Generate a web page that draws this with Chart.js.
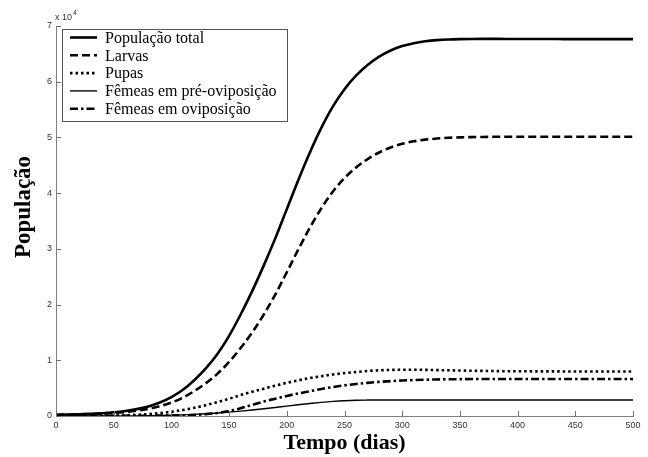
<!DOCTYPE html>
<html><head><meta charset="utf-8">
<script src="https://cdn.jsdelivr.net/npm/chart.js@4.4.1/dist/chart.umd.min.js"></script>
<style>html,body{margin:0;padding:0;background:#fff}#wrap{width:648px;height:457px;position:relative}</style>
</head><body><div id="wrap"><canvas id="c" width="648" height="457"></canvas></div>
<script>
const days = [0,10,20,30,40,50,60,70,80,90,100,110,120,130,140,150,160,170,180,190,200,210,220,230,240,250,260,270,280,290,300,310,320,330,340,350,360,370,380,390,400,410,420,430,440,450,460,470,480,490,500];
const total = [230,270,320,400,500,660,890,1230,1720,2420,3390,4700,6470,8580,11180,14390,18220,22420,26990,31880,37130,42370,47300,51750,55570,58650,61080,62990,64490,65600,66390,66920,67260,67470,67590,67650,67680,67690,67690,67680,67680,67670,67660,67660,67650,67650,67650,67650,67650,67650,67650];
const larvas = [180,230,280,350,440,560,720,950,1280,1750,2400,3300,4500,5900,7600,9700,12200,15000,18200,21800,25800,29900,33800,37300,40300,42700,44600,46100,47300,48200,48850,49300,49600,49800,49930,50010,50060,50090,50110,50120,50130,50130,50130,50130,50130,50130,50130,50130,50130,50130,50130];
const pupas = [0,0,10,20,30,60,120,210,340,520,760,1080,1480,1950,2500,3100,3750,4350,4900,5450,5950,6400,6800,7150,7450,7700,7900,8080,8200,8270,8300,8300,8280,8240,8200,8160,8120,8090,8060,8040,8030,8020,8010,8010,8000,8000,8000,8000,8000,8000,8000];
const preOvi = [0,0,0,0,0,10,20,30,50,80,130,200,290,400,530,690,870,1070,1290,1530,1780,2020,2250,2450,2620,2750,2830,2860,2870,2870,2870,2870,2870,2870,2870,2870,2870,2870,2870,2870,2870,2870,2870,2870,2870,2870,2870,2870,2870,2870,2870];
const ovi = [50,40,30,30,30,30,30,40,50,70,100,120,200,330,550,900,1400,2000,2600,3100,3600,4050,4450,4850,5200,5500,5750,5950,6120,6260,6370,6450,6510,6560,6590,6610,6630,6640,6650,6650,6650,6650,6650,6650,6650,6650,6650,6650,6650,6650,6650];
const xTicks = [0,50,100,150,200,250,300,350,400,450,500];
const yTicks = [0,10000,20000,30000,40000,50000,60000,70000];
const seriesNames = ['População total','Larvas','Pupas','Fêmeas em pré-oviposição','Fêmeas em oviposição'];
const xTitle = 'Tempo (dias)';
const yTitle = 'População';

const styles = [
  {w:2.6, dash:[]},
  {w:2.6, dash:[8,4]},
  {w:2.6, dash:[2.5,3]},
  {w:1.4, dash:[]},
  {w:2.6, dash:[8,3,2.5,3]}
];
const seriesData = [total, larvas, pupas, preOvi, ovi];

const datasets = seriesData.map((arr,i)=>({
  label: seriesNames[i],
  data: arr.map((v,j)=>({x:days[j], y:v})),
  borderColor:'#000',
  borderWidth: styles[i].w,
  borderDash: styles[i].dash,
  pointRadius:0,
  fill:false,
  cubicInterpolationMode:'monotone'
}));

const overlay = {
  id:'overlay',
  afterDraw(chart){
    const ctx = chart.ctx;
    const xs = chart.scales.x, ys = chart.scales.y;
    const ca = chart.chartArea;
    ctx.save();
    ctx.strokeStyle = '#707070';
    ctx.lineWidth = 1;
    ctx.setLineDash([]);
    ctx.beginPath();
    xTicks.forEach(t=>{
      const px = Math.round(xs.getPixelForValue(t))+0.5;
      ctx.moveTo(px, ca.bottom); ctx.lineTo(px, ca.bottom-5);
    });
    yTicks.forEach(t=>{
      const py = Math.round(ys.getPixelForValue(t))+0.5;
      ctx.moveTo(ca.left, py); ctx.lineTo(ca.left+5, py);
    });
    ctx.stroke();
    ctx.fillStyle = '#333';
    ctx.font = '9px "Liberation Sans", Arial, sans-serif';
    ctx.textAlign = 'left'; ctx.textBaseline = 'alphabetic';
    ctx.fillText('x 10', ca.left-1, ca.top-6);
    ctx.font = '7px "Liberation Sans", Arial, sans-serif';
    ctx.fillText('4', ca.left+17, ca.top-11);
    ctx.fillStyle = '#000';
    ctx.font = 'bold 22px "Liberation Serif", "Times New Roman", serif';
    ctx.textAlign = 'center'; ctx.textBaseline = 'middle';
    ctx.fillText(xTitle, (ca.left+ca.right)/2, 443);
    ctx.save();
    ctx.font = 'bold 23px "Liberation Serif", "Times New Roman", serif';
    ctx.translate(24, 207);
    ctx.rotate(-Math.PI/2);
    ctx.fillText(yTitle, 0, 0);
    ctx.restore();
    const bx = 62.5, by = 29.5, bw = 225, bh = 92;
    ctx.fillStyle = '#fff';
    ctx.fillRect(bx, by, bw, bh);
    ctx.strokeStyle = '#555';
    ctx.lineWidth = 1;
    ctx.strokeRect(bx, by, bw, bh);
    ctx.font = '16px "Liberation Serif", "Times New Roman", serif';
    ctx.textAlign = 'left'; ctx.textBaseline = 'middle';
    seriesNames.forEach((n,i)=>{
      const y = 37.5 + i*17.8;
      ctx.strokeStyle = '#000';
      ctx.lineWidth = styles[i].w;
      ctx.setLineDash(styles[i].dash);
      ctx.beginPath(); ctx.moveTo(70, y); ctx.lineTo(97, y); ctx.stroke();
      ctx.setLineDash([]);
      ctx.fillStyle = '#000';
      ctx.fillText(n, 105, y+1);
    });
    ctx.restore();
  }
};

new Chart(document.getElementById('c'), {
  type:'line',
  data:{datasets},
  options:{
    responsive:false,
    animation:false,
    layout:{padding:{left:0, right:15, top:26, bottom:0}},
    plugins:{legend:{display:false}, title:{display:false}, tooltip:{enabled:false}},
    scales:{
      x:{
        type:'linear', min:0, max:500,
        afterFit(s){ s.height = 41; },
        afterBuildTicks(s){ s.ticks = xTicks.map(v=>({value:v})); },
        grid:{display:false, drawTicks:false},
        border:{display:true, color:'#808080', width:1},
        ticks:{padding:4, color:'#333', font:{family:'"Liberation Sans", Arial, sans-serif', size:9}, maxRotation:0, autoSkip:false, callback:(v)=>String(v)}
      },
      y:{
        type:'linear', min:0, max:70000,
        afterFit(s){ s.width = 56; },
        afterBuildTicks(s){ s.ticks = yTicks.map(v=>({value:v})); },
        grid:{display:false, drawTicks:false},
        border:{display:true, color:'#808080', width:1},
        ticks:{padding:4, color:'#333', font:{family:'"Liberation Sans", Arial, sans-serif', size:9}, autoSkip:false, callback:(v)=>String(v/10000)}
      }
    }
  },
  plugins:[overlay]
});
</script></body></html>
